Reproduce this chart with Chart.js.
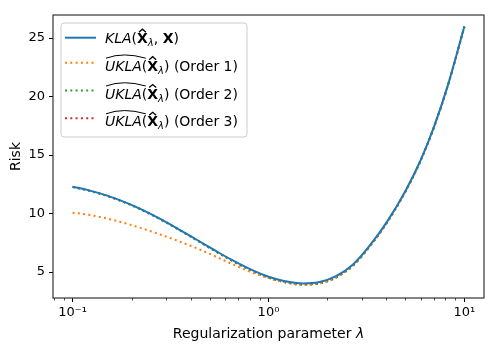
<!DOCTYPE html>
<html>
<head>
<meta charset="utf-8">
<script src="https://cdn.jsdelivr.net/npm/chart.js@4.4.0/dist/chart.umd.min.js"></script>
<style>
  html, body { margin: 0; padding: 0; background: #fff; }
</style>
</head>
<body>
<canvas id="riskChart" width="499" height="353"></canvas>
<script>
// Regularization parameter values (x axis, log scale)
const lambdas = [0.1, 0.12, 0.15, 0.19, 0.23, 0.28, 0.35, 0.43, 0.53, 0.65, 0.8, 1.0,
                 1.2, 1.5, 1.8, 2.2, 2.7, 3.3, 4.0, 5.0, 6.0, 7.0, 8.2, 10];

// Series values
const klaRisk = [12.29, 12.0, 11.53, 10.89, 10.27, 9.54, 8.63, 7.76, 6.87, 6.03, 5.27, 4.6,
                 4.24, 4.03, 4.12, 4.62, 5.65, 7.3, 9.22, 11.93, 14.62, 17.43, 20.87, 26.0];
const uklaOrder1 = [10.07, 9.9, 9.57, 9.12, 8.69, 8.21, 7.62, 7.03, 6.37, 5.69, 5.04, 4.48,
                    4.14, 3.93, 4.01, 4.52, 5.55, 7.22, 9.16, 11.88, 14.58, 17.4, 20.84, 25.97];
const uklaOrder2 = [12.26, 11.97, 11.5, 10.86, 10.24, 9.51, 8.6, 7.72, 6.82, 5.97, 5.2, 4.52,
                    4.15, 3.93, 4.01, 4.52, 5.55, 7.22, 9.16, 11.88, 14.58, 17.4, 20.84, 25.97];
const uklaOrder3 = [12.27, 11.98, 11.51, 10.87, 10.25, 9.52, 8.61, 7.73, 6.83, 5.98, 5.21, 4.53,
                    4.15, 3.93, 4.01, 4.52, 5.55, 7.22, 9.16, 11.88, 14.58, 17.4, 20.84, 25.97];

const yTickValues = [5, 10, 15, 20, 25];
const xTickLabels = { '-1': '10\u207B\u00B9', '0': '10\u2070', '1': '10\u00B9' };
const orderLabels = ['(Order 1)', '(Order 2)', '(Order 3)'];

const FONT = '"DejaVu Sans", sans-serif';
const colors = ['#1f77b4', '#ff7f0e', '#2ca02c', '#d62728'];
const dotted = [2, 3.3];

function points(ys) {
    return lambdas.map((x, i) => ({ x: x, y: ys[i] }));
}

function isMajor(v) {
    const l = Math.log10(v);
    return Math.abs(l - Math.round(l)) < 1e-9;
}

// draw a run of text pieces with different fonts
function drawRich(ctx, x, y, parts) {
    parts.forEach(p => {
        ctx.font = p.font;
        const w = ctx.measureText(p.text).width;
        ctx.fillText(p.text, x, y + (p.dy || 0));
        if (p.hat) {
            const cx = x + w / 2;
            ctx.beginPath();
            ctx.moveTo(cx - 3.5, y - 11);
            ctx.lineTo(cx, y - 14);
            ctx.lineTo(cx + 3.5, y - 11);
            ctx.lineWidth = 1.3;
            ctx.stroke();
        }
        if (p.wide) {
            ctx.beginPath();
            ctx.moveTo(x + 1, y - 12.5);
            ctx.quadraticCurveTo(x + w / 2, y - 19, x + w + 4, y - 12.5);
            ctx.lineWidth = 1;
            ctx.stroke();
        }
        x += w;
    });
    return x;
}

const frameAndLegend = {
    id: 'frameAndLegend',
    afterDraw(chart) {
        const ctx = chart.ctx;
        const a = chart.chartArea;
        const xs = chart.scales.x;
        ctx.save();

        // minor ticks on the log axis
        ctx.strokeStyle = '#000';
        ctx.lineWidth = 0.7;
        xs.ticks.forEach(t => {
            if (isMajor(t.value)) return;
            const px = Math.round(xs.getPixelForValue(t.value)) + 0.5;
            ctx.beginPath();
            ctx.moveTo(px, a.bottom);
            ctx.lineTo(px, a.bottom + 2.5);
            ctx.stroke();
        });

        // spines
        ctx.strokeStyle = '#222';
        ctx.lineWidth = 1.1;
        ctx.strokeRect(a.left, a.top, a.right - a.left, a.bottom - a.top);

        // x axis title with italic lambda
        ctx.fillStyle = '#000';
        ctx.textBaseline = 'alphabetic';
        const t1 = 'Regularization parameter ';
        ctx.font = '14px ' + FONT;
        const w1 = ctx.measureText(t1).width;
        ctx.font = 'italic 14px ' + FONT;
        const w2 = ctx.measureText('\u03BB').width;
        const sx = (a.left + a.right) / 2 - (w1 + w2) / 2;
        drawRich(ctx, sx, 338, [
            { text: t1, font: '14px ' + FONT },
            { text: '\u03BB', font: 'italic 14px ' + FONT }
        ]);

        // legend box
        const bx = 61, by = 23, bw = 186, bh = 114, r = 3;
        ctx.beginPath();
        ctx.moveTo(bx + r, by);
        ctx.arcTo(bx + bw, by, bx + bw, by + bh, r);
        ctx.arcTo(bx + bw, by + bh, bx, by + bh, r);
        ctx.arcTo(bx, by + bh, bx, by, r);
        ctx.arcTo(bx, by, bx + bw, by, r);
        ctx.closePath();
        ctx.fillStyle = 'rgba(255,255,255,0.8)';
        ctx.fill();
        ctx.strokeStyle = '#cccccc';
        ctx.lineWidth = 1;
        ctx.stroke();

        const rowY = [37.7, 62.7, 90.5, 118.3];
        const textX = 105;
        const norm = '14px ' + FONT;
        const ital = 'italic 14px ' + FONT;
        const bold = 'bold 14px ' + FONT;
        const sub = 'italic 10px ' + FONT;

        rowY.forEach((yy, i) => {
            ctx.beginPath();
            ctx.moveTo(65, yy);
            ctx.lineTo(96, yy);
            ctx.strokeStyle = colors[i];
            ctx.lineWidth = 2;
            ctx.setLineDash(i === 0 ? [] : dotted);
            ctx.stroke();
            ctx.setLineDash([]);

            ctx.fillStyle = '#000';
            ctx.strokeStyle = '#000';
            if (i === 0) {
                drawRich(ctx, textX, yy + 5.5, [
                    { text: 'KLA', font: ital },
                    { text: '(', font: norm },
                    { text: 'X', font: bold, hat: true },
                    { text: '\u03BB', font: sub, dy: 3 },
                    { text: ', ', font: norm },
                    { text: 'X', font: bold },
                    { text: ')', font: norm }
                ]);
            } else {
                drawRich(ctx, textX, yy + 8, [
                    { text: 'UKLA', font: ital, wide: true },
                    { text: '(', font: norm },
                    { text: 'X', font: bold, hat: true },
                    { text: '\u03BB', font: sub, dy: 3 },
                    { text: ') ' + orderLabels[i - 1], font: norm }
                ]);
            }
        });
        ctx.restore();
    }
};

const baseSet = {
    pointRadius: 0,
    borderWidth: 2,
    fill: false,
    cubicInterpolationMode: 'monotone'
};

new Chart(document.getElementById('riskChart'), {
    type: 'line',
    data: {
        datasets: [
            Object.assign({}, baseSet, { label: 'KLA', data: points(klaRisk), borderColor: colors[0] }),
            Object.assign({}, baseSet, { label: 'UKLA (Order 1)', data: points(uklaOrder1), borderColor: colors[1], borderDash: dotted }),
            Object.assign({}, baseSet, { label: 'UKLA (Order 2)', data: points(uklaOrder2), borderColor: colors[2], borderDash: dotted }),
            Object.assign({}, baseSet, { label: 'UKLA (Order 3)', data: points(uklaOrder3), borderColor: colors[3], borderDash: dotted })
        ]
    },
    options: {
        responsive: false,
        animation: false,
        devicePixelRatio: 1,
        layout: { padding: { top: 15, right: 15, left: 0, bottom: 0 } },
        plugins: {
            legend: { display: false },
            tooltip: { enabled: false }
        },
        scales: {
            x: {
                type: 'logarithmic',
                min: Math.pow(10, -1.1),
                max: Math.pow(10, 1.1),
                afterFit: s => { s.height = 55; },
                afterBuildTicks: s => {
                    const t = [];
                    for (let k = -2; k <= 1; k++) {
                        for (let m = 1; m <= 9; m++) {
                            const v = m * Math.pow(10, k);
                            if (v >= s.min && v <= s.max) t.push({ value: v });
                        }
                    }
                    s.ticks = t;
                },
                grid: {
                    drawOnChartArea: false,
                    tickLength: 4,
                    tickWidth: 1,
                    tickColor: c => (c.tick && isMajor(c.tick.value)) ? '#000' : 'rgba(0,0,0,0)'
                },
                border: { display: false },
                ticks: {
                    autoSkip: false,
                    maxRotation: 0,
                    padding: 3,
                    color: '#000',
                    font: { family: FONT, size: 13 },
                    callback: v => isMajor(v) ? xTickLabels[String(Math.round(Math.log10(v)))] : ''
                }
            },
            y: {
                type: 'linear',
                min: 2.78,
                max: 26.97,
                afterFit: s => { s.width = 53; },
                afterBuildTicks: s => { s.ticks = yTickValues.map(v => ({ value: v })); },
                grid: {
                    drawOnChartArea: false,
                    tickLength: 4,
                    tickColor: '#000'
                },
                border: { display: false },
                ticks: {
                    padding: 4,
                    color: '#000',
                    font: { family: FONT, size: 13 }
                },
                title: {
                    display: true,
                    text: 'Risk',
                    color: '#000',
                    font: { family: FONT, size: 14 },
                    padding: { top: 8, bottom: 0 }
                }
            }
        }
    },
    plugins: [frameAndLegend]
});
</script>
</body>
</html>
